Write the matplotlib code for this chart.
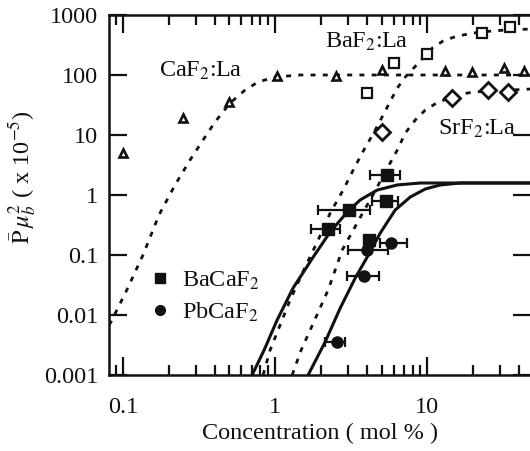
import numpy as np
import matplotlib
matplotlib.use("Agg")
import matplotlib.pyplot as plt
from matplotlib.lines import Line2D

plt.rcParams['font.family'] = ['Liberation Serif', 'DejaVu Serif']
plt.rcParams['mathtext.fontset'] = 'stix'

# -----------------------------
# data
# -----------------------------
# CaF2:La (open triangles)
caf2_x = [0.10, 0.25, 0.50, 1.03, 2.5, 5.0, 13.1, 19.8, 32, 43]
caf2_y = [5.0, 19, 36, 96, 97, 121, 117, 112, 130, 117]

# BaF2:La (open squares)
baf2_x = [4.0, 6.0, 10.0, 23, 35]
baf2_y = [50, 158, 224, 500, 630]

# SrF2:La (open diamonds)
srf2_x = [5.06, 14.5, 25, 34]
srf2_y = [11.2, 41, 56, 53]

# BaCaF2 (filled squares, x error range)
baca_x = [2.23, 3.07, 5.46, 5.38, 4.16]
baca_y = [0.27, 0.56, 2.15, 0.79, 0.18]
baca_xlo = [1.73, 1.92, 4.22, 4.35, 4.16]
baca_xhi = [2.68, 4.22, 6.64, 6.45, 4.16]

# PbCaF2 (filled circles, x error range)
pbca_x = [5.8, 4.03, 3.85, 2.56]
pbca_y = [0.158, 0.12, 0.045, 0.0036]
pbca_xlo = [4.91, 3.02, 2.97, 2.13]
pbca_xhi = [7.39, 5.54, 4.83, 2.89]

# fitted curves, points
fit_caf2_x = [0.081, 0.0834, 0.106, 0.1355, 0.1725, 0.220, 0.276, 0.336, 0.403, 0.506, 0.635, 0.773, 1.0, 1.46, 48]
fit_caf2_y = [0.0068, 0.00764, 0.0261, 0.1, 0.464, 1.47, 3.83, 8.25, 16.5, 34.1, 56.2, 76.5, 92.6, 100, 100]

fit_baf2_x = [0.834, 0.927, 1.112, 1.255, 1.575, 1.918, 2.30, 2.80, 3.26, 3.73, 4.55, 5.46, 6.35, 7.17, 8.73, 10.8, 12.7, 15.7, 22.3, 32.6, 48]
fit_baf2_y = [0.001, 0.00261, 0.00826, 0.0178, 0.063, 0.178, 0.50, 1.21, 2.61, 5.0, 12.1, 29.3, 60.7, 92.6, 158, 282, 369, 447, 521, 562, 584]

fit_srf2_x = [1.294, 1.483, 1.70, 2.23, 2.76, 3.21, 3.73, 4.35, 5.29, 6.35, 7.17, 8.34, 9.70, 11.8, 14.8, 18.3, 24.1, 35.2, 48]
fit_srf2_y = [0.001, 0.00261, 0.00562, 0.0261, 0.121, 0.242, 0.482, 0.96, 2.42, 5.62, 10.8, 17.8, 26.1, 35.5, 43.0, 50.1, 54.1, 56.2, 58.4]

fit_baca_x = [0.706, 0.847, 1.031, 1.313, 1.78, 2.30, 2.98, 3.62, 4.69, 6.35, 9.0, 48]
fit_baca_y = [0.001, 0.00261, 0.00826, 0.0282, 0.0926, 0.242, 0.521, 0.826, 1.21, 1.47, 1.585, 1.585]

fit_pbca_x = [1.648, 2.13, 2.68, 3.36, 4.03, 4.91, 6.15, 7.73, 9.70, 12.2, 16.5, 48]
fit_pbca_y = [0.001, 0.00355, 0.0131, 0.0414, 0.0926, 0.233, 0.562, 0.926, 1.26, 1.47, 1.585, 1.585]

x_ticks = [0.1, 1, 10]
x_tick_labels = ["0.1", "1", "10"]
y_ticks = [0.001, 0.01, 0.1, 1, 10, 100, 1000]
y_tick_labels = ["0.001", "0.01", "0.1", "1", "10", "100", "1000"]

# -----------------------------
# figure
# -----------------------------
fs = 17.5
ink = '#111111'
fig = plt.figure(figsize=(5.30, 4.51), dpi=100)
ax = fig.add_axes([109/530, 1 - 375/451, 422/530, 360/451])
ax.set_xscale('log')
ax.set_yscale('log')
ax.set_xlim(0.081, 48)
ax.set_ylim(0.001, 1000)

dot = (0, (1.8, 2.6))
ax.plot(fit_caf2_x, fit_caf2_y, color=ink, lw=2.0, ls=dot)
ax.plot(fit_baf2_x, fit_baf2_y, color=ink, lw=2.0, ls=dot)
ax.plot(fit_srf2_x, fit_srf2_y, color=ink, lw=2.0, ls=dot)
ax.plot(fit_baca_x, fit_baca_y, color=ink, lw=2.2)
ax.plot(fit_pbca_x, fit_pbca_y, color=ink, lw=2.2)

ax.plot(caf2_x, caf2_y, ls='none', marker='^', ms=5.5, mfc='white', mec=ink, mew=1.9)
ax.plot(baf2_x, baf2_y, ls='none', marker='s', ms=6.5, mfc='white', mec=ink, mew=1.6)
ax.plot(srf2_x, srf2_y, ls='none', marker='D', ms=8, mfc='white', mec=ink, mew=2.0)

baca_x = np.array(baca_x)
pbca_x = np.array(pbca_x)
baca_err = [baca_x - np.array(baca_xlo), np.array(baca_xhi) - baca_x]
pbca_err = [pbca_x - np.array(pbca_xlo), np.array(pbca_xhi) - pbca_x]
ax.errorbar(baca_x, baca_y, xerr=baca_err, fmt='s', ms=8, color=ink,
            elinewidth=1.6, capsize=3.6, capthick=1.6)
ax.errorbar(pbca_x, pbca_y, xerr=pbca_err, fmt='o', ms=8, color=ink,
            elinewidth=1.6, capsize=3.6, capthick=1.6)

# curve labels
ax.text(0.172, 92.6, "CaF$_2$:La", fontsize=fs, va='baseline', color=ink)
ax.text(2.13, 282, "BaF$_2$:La", fontsize=fs, va='baseline', color=ink)
ax.text(11.8, 10, "SrF$_2$:La", fontsize=fs, va='baseline', color=ink)

handles = [Line2D([], [], ls='none', marker='s', ms=7, color=ink),
           Line2D([], [], ls='none', marker='o', ms=7, color=ink)]
leg = ax.legend(handles, ["BaCaF$_2$", "PbCaF$_2$"], loc='upper left',
                bbox_to_anchor=(0.093, 0.293), frameon=False, fontsize=fs,
                handlelength=1.0, handletextpad=0.4, borderpad=0,
                borderaxespad=0, labelspacing=0.35)
for t in leg.get_texts():
    t.set_color(ink)

# axes styling
ax.set_xticks(x_ticks, x_tick_labels)
ax.set_yticks(y_ticks, y_tick_labels)
ax.yaxis.set_minor_locator(matplotlib.ticker.NullLocator())
ax.xaxis.set_minor_formatter(matplotlib.ticker.NullFormatter())
ax.tick_params(which='both', direction='in', top=True, right=True,
               labelsize=fs, width=1.6, color=ink, labelcolor=ink)
ax.tick_params(which='major', length=13)
ax.tick_params(axis='y', which='major', pad=8)
ax.tick_params(axis='x', which='major', pad=16)
ax.tick_params(which='minor', length=7)
for s in ['left', 'top', 'bottom']:
    ax.spines[s].set_linewidth(1.8)
    ax.spines[s].set_color(ink)
ax.spines['right'].set_visible(False)

ax.set_xlabel("Concentration ( mol % )", fontsize=fs, color=ink, labelpad=3)
ax.set_ylabel(r"$\bar{\mathrm{P}}\,\mu_b^2$ ( x 10$^{-5}$)", fontsize=fs, color=ink)
ax.yaxis.set_label_coords(-0.165, 0.55)

fig.savefig("out.png", dpi=100)
